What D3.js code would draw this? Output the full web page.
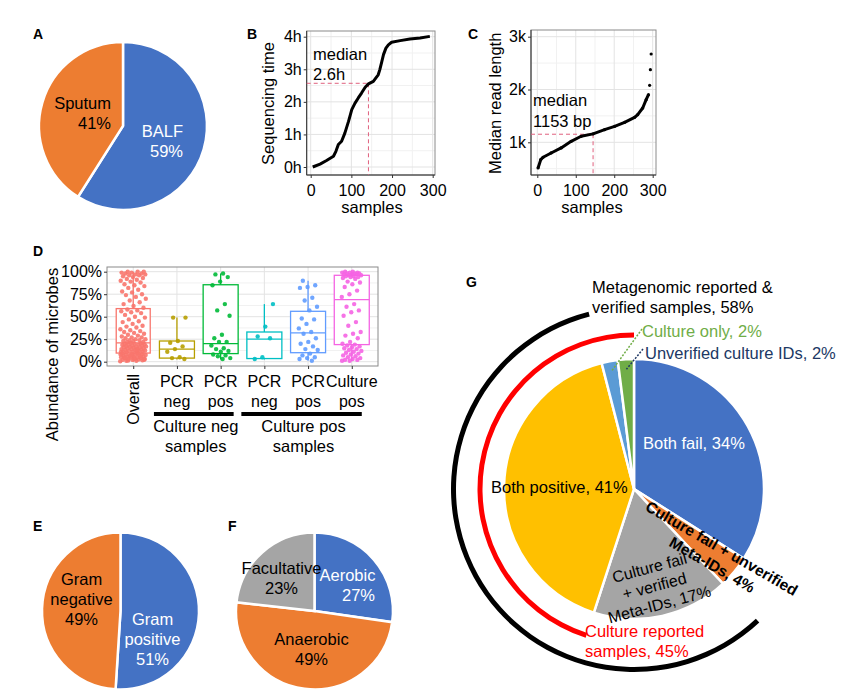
<!DOCTYPE html>
<html>
<head>
<meta charset="utf-8">
<title>Multi-panel figure</title>
<script src="https://cdn.jsdelivr.net/npm/d3@7"></script>
<style>
  body { margin: 0; background: #fff; }
  text { font-family: "Liberation Sans", Arial, sans-serif; }
</style>
</head>
<body>
<svg id="svg" width="844" height="696" xmlns="http://www.w3.org/2000/svg"></svg>
<script>
// ---------- data ----------
// A: sample types
const catA = ["BALF", "Sputum"];
const valA = [59, 41];

// B: sequencing time per sample (sorted)
const sampB = [5, 23, 39, 56, 62, 68, 76, 84, 93, 101, 109, 117, 125, 134, 142, 154, 166, 170, 175, 179, 185, 191, 199, 220, 244, 269, 293];
const hoursB = [0.0, 0.09, 0.2, 0.33, 0.48, 0.69, 0.79, 1.04, 1.4, 1.76, 1.96, 2.12, 2.27, 2.45, 2.55, 2.63, 2.83, 2.99, 3.24, 3.45, 3.65, 3.75, 3.83, 3.88, 3.93, 3.96, 4.01];
const medianB = { sample: 142, value: 2.57 };
const ticksB = [0, 1, 2, 3, 4];

// C: median read length per sample (sorted)
const sampC = [2, 9, 15, 36, 62, 88, 114, 145, 175, 201, 227, 253, 261, 274, 283, 289, 292, 294, 296];
const lenC = [514, 672, 716, 798, 893, 1019, 1114, 1160, 1240, 1303, 1379, 1473, 1524, 1650, 1808, 1902, 2079, 2375, 2672];
const medianC = { sample: 145, value: 1153 };
const ticksC = [1000, 2000, 3000];

// D: abundance of microbes, box stats
const labelsD = [["Overall"], ["PCR", "neg"], ["PCR", "pos"], ["PCR", "neg"], ["PCR", "pos"], ["Culture", "pos"]];
const colorsD = ["#F8766D", "#B79F00", "#00BA38", "#00BFC4", "#619CFF", "#F564E3"];
const boxLo = [0, 2.5, 2.5, 2.5, 1, 0.5];
const boxQ1 = [9.6, 4, 9, 3.5, 10, 19];
const boxMed = [21, 14, 20, 25, 32, 69];
const boxQ3 = [59, 23, 85.5, 33, 56, 96];
const boxHi = [100, 49, 98, 64, 90, 100];
const ptsOverall = [0.5,1,1,1.5,2,2,2.5,3,3,3.5,4,4,4.5,5,5,5.5,6,6,6.5,7,7,7.5,8,8,8.5,9,9,9.5,1.2,2.2,3.3,4.4,5.6,6.8,7.9,
  10,10.5,11,11,11.5,12,12,12.5,13,13,13.5,14,14,14.5,15,15,15.5,16,16,16.5,17,17,17.5,18,18,18.5,19,19,19.5,20,20,20.5,21,10.8,12.8,
  22,22,23,23,24,24,25,25,26,27,27,28,29,30,31,32,33,34,35,36,38,39,40,42,44,45,47,49,50,52,54,55,56,57,58,
  60,62,64,66,68,70,72,74,75,77,78,80,82,84,85,86,88,89,90,91,92,93,94,95,96,96,97,97,98,98,99,99,100,100,100];
const ptsCnPcrNeg = [49, 49, 23, 21, 17, 14, 11, 5, 4, 3];
const ptsCnPcrPos = [98, 97, 94, 89, 85, 64, 57, 51, 30, 26, 22, 22, 18, 15, 14, 12, 11, 8, 7, 6, 4, 3];
const ptsCpPcrNeg = [64, 39, 28, 26, 5, 3];
const ptsCpPcrPos = [90, 85, 83, 82, 71, 68, 61, 57, 48, 47, 42, 37, 33, 31, 26, 22, 20, 17, 14, 13, 9, 7, 5, 4, 3, 1];
const ptsCulturePos = [100,100,99,99,99,98,98,98,97,97,97,96,96,95,95,94,94,93,92,89,88,86,83,79,75,72,64,61,57,55,51,44,40,33,31,29,26,22,
  20,19,18,17,16,15,14,13,12,11,10,9,8,7,6,5,4,3,2,2,1,1];
const ptsD = [ptsOverall, ptsCnPcrNeg, ptsCnPcrPos, ptsCpPcrNeg, ptsCpPcrPos, ptsCulturePos];
const groupsD = [{ label: ["Culture neg", "samples"], from: 1, to: 2 }, { label: ["Culture pos", "samples"], from: 3, to: 5 }];
const ticksD = [0, 25, 50, 75, 100];

// E: gram stain
const catE = ["Gram positive", "Gram negative"];
const valE = [51, 49];

// F: oxygen requirement
const catF = ["Aerobic", "Anaerobic", "Facultative"];
const valF = [27, 49, 23];

// G: culture vs metagenomics outcome
const catG = ["Both fail", "Culture fail + unverified Meta-IDs", "Culture fail + verified Meta-IDs", "Both positive", "Unverified culture IDs", "Culture only"];
const valG = [34, 4, 17, 41, 2, 2];
const colorsG = ["#4472C4", "#ED7D31", "#A5A5A5", "#FFC000", "#5B9BD5", "#70AD47"];
const redArcSlices = [3, 4, 5];   // culture reported samples, 45%
const blackArcSlices = [2, 3];    // metagenomic reported & verified, 58%

const BLUE = "#4472C4", ORANGE = "#ED7D31", GREY = "#A5A5A5";
const FONT = "Liberation Sans, Arial, sans-serif";

let svg = d3.select("svg");
svg.append("rect").attr("width", 844).attr("height", 696).attr("fill", "#fff");

// panel letters
function letter(x, y, t) {
  svg.append("text").attr("x", x).attr("y", y).attr("font-size", 14)
    .attr("font-weight", "bold").text(t);
}
letter(33, 39, "A"); letter(247, 39, "B"); letter(468, 39, "C");
letter(33, 256, "D"); letter(33, 531, "E"); letter(228, 531, "F"); letter(466, 287, "G");

// multi-line text helper
function lines(g, x, y, arr, opts) {
  let t = g.append("text").attr("x", x).attr("y", y)
    .attr("font-size", opts.size || 16.5)
    .attr("text-anchor", opts.anchor || "middle")
    .attr("fill", opts.fill || "#000");
  if (opts.weight) t.attr("font-weight", opts.weight);
  arr.forEach((s, i) => t.append("tspan").attr("x", x).attr("dy", i ? (opts.lh || 20) : 0).text(s));
  return t;
}

// pie helper
function drawPie(cx, cy, r, values, colors) {
  let arcs = d3.pie().sort(null)(values);
  let g = svg.append("g").attr("transform", `translate(${cx},${cy})`);
  g.selectAll("path").data(arcs).join("path")
    .attr("d", d3.arc().innerRadius(0).outerRadius(r))
    .attr("fill", (d, i) => colors[i])
    .attr("stroke", "#fff").attr("stroke-width", 2.5);
  return { g, arcs };
}

// ---------- A ----------
let pA = drawPie(123, 126, 84, valA, [BLUE, ORANGE]);
lines(pA.g, 60, 11, [catA[0], valA[0] + "%"], { anchor: "end", fill: "#fff" });
lines(pA.g, -12, -17, [catA[1], valA[1] + "%"], { anchor: "end" });

// ---------- shared line-panel helper (B, C) ----------
function linePanel(box, x, y, xMaj, xMin, yMaj, yMin, yFmt) {
  let g = svg.append("g");
  let grid = g.append("g");
  yMin.forEach(v => grid.append("line").attr("x1", box.l).attr("x2", box.r).attr("y1", y(v)).attr("y2", y(v)).attr("stroke", "#f1f1f1"));
  xMin.forEach(v => grid.append("line").attr("y1", box.t).attr("y2", box.b).attr("x1", x(v)).attr("x2", x(v)).attr("stroke", "#f1f1f1"));
  yMaj.forEach(v => grid.append("line").attr("x1", box.l).attr("x2", box.r).attr("y1", y(v)).attr("y2", y(v)).attr("stroke", "#e3e3e3"));
  xMaj.forEach(v => grid.append("line").attr("y1", box.t).attr("y2", box.b).attr("x1", x(v)).attr("x2", x(v)).attr("stroke", "#e3e3e3"));
  g.append("rect").attr("x", box.l).attr("y", box.t).attr("width", box.r - box.l).attr("height", box.b - box.t)
    .attr("fill", "none").attr("stroke", "#8a8a8a");
  let ax = g.append("g").attr("transform", `translate(${box.l},0)`)
    .call(d3.axisLeft(y).tickValues(yMaj).tickFormat(yFmt).tickSize(3).tickPadding(2));
  let bx = g.append("g").attr("transform", `translate(0,${box.b})`)
    .call(d3.axisBottom(x).tickValues(xMaj).tickSize(3).tickPadding(7));
  [ax, bx].forEach(a => {
    a.attr("font-size", 16).attr("font-family", FONT);
    a.selectAll("text").attr("fill", "#000");
    a.selectAll("line").attr("stroke", "#333");
    a.select(".domain").remove();
  });
  g.append("line").attr("x1", box.l).attr("x2", box.l).attr("y1", box.t).attr("y2", box.b).attr("stroke", "#333");
  g.append("line").attr("x1", box.l).attr("x2", box.r).attr("y1", box.b).attr("y2", box.b).attr("stroke", "#333");
  return g;
}

// ---------- B ----------
const boxB = { l: 306.7, r: 435, t: 31, b: 175 };
const xB = d3.scaleLinear().domain([0, 300]).range([310.7, 432.7]);
const yB = d3.scaleLinear().domain([0, 4]).range([167, 36.7]);
let gB = linePanel(boxB, xB, yB, [0, 100, 200, 300], [50, 150, 250], ticksB, [0.5, 1.5, 2.5, 3.5], d => d + "h");
gB.append("line").attr("x1", boxB.l).attr("x2", xB(medianB.sample)).attr("y1", yB(medianB.value)).attr("y2", yB(medianB.value))
  .attr("stroke", "#e0607e").attr("stroke-dasharray", "4,3");
gB.append("line").attr("x1", xB(medianB.sample)).attr("x2", xB(medianB.sample)).attr("y1", yB(medianB.value)).attr("y2", boxB.b)
  .attr("stroke", "#e0607e").attr("stroke-dasharray", "4,3");
let ptsB = sampB.map((s, i) => [s, hoursB[i]]);
gB.append("path").attr("d", d3.line().x(d => xB(d[0])).y(d => yB(d[1]))(ptsB))
  .attr("fill", "none").attr("stroke", "#000").attr("stroke-width", 3).attr("stroke-linejoin", "round");
lines(gB, 313, 60, ["median", medianB.value.toFixed(1) + "h"], { anchor: "start" });
gB.append("text").attr("x", 372).attr("y", 213).attr("text-anchor", "middle").attr("font-size", 16.5).text("samples");
gB.append("text").attr("transform", "translate(274,103.5) rotate(-90)").attr("text-anchor", "middle").attr("font-size", 16.5).text("Sequencing time");

// ---------- C ----------
const boxC = { l: 531, r: 656, t: 30, b: 175 };
const xC = d3.scaleLinear().domain([0, 300]).range([537.3, 652.7]);
const yC = d3.scaleLinear().domain([1000, 3000]).range([142.3, 36.7]);
let gC = linePanel(boxC, xC, yC, [0, 100, 200, 300], [50, 150, 250], ticksC, [500, 1500, 2500], d => d / 1000 + "k");
gC.append("line").attr("x1", boxC.l).attr("x2", xC(medianC.sample)).attr("y1", yC(medianC.value)).attr("y2", yC(medianC.value))
  .attr("stroke", "#e0607e").attr("stroke-dasharray", "4,3");
gC.append("line").attr("x1", xC(medianC.sample)).attr("x2", xC(medianC.sample)).attr("y1", yC(medianC.value)).attr("y2", boxC.b)
  .attr("stroke", "#e0607e").attr("stroke-dasharray", "4,3");
let ptsC = sampC.map((s, i) => [s, lenC[i]]);
gC.append("path").attr("d", d3.line().x(d => xC(d[0])).y(d => yC(d[1]))(ptsC.filter(d => d[1] < 2000)))
  .attr("fill", "none").attr("stroke", "#000").attr("stroke-width", 3).attr("stroke-linejoin", "round");
gC.selectAll(".dotc").data(ptsC).join("circle").attr("class", "dotc")
  .attr("cx", d => xC(d[0])).attr("cy", d => yC(d[1])).attr("r", 1.6).attr("fill", "#000");
lines(gC, 533, 106, ["median", medianC.value + " bp"], { anchor: "start", lh: 21 });
gC.append("text").attr("x", 592).attr("y", 213).attr("text-anchor", "middle").attr("font-size", 16.5).text("samples");
gC.append("text").attr("transform", "translate(501,103.3) rotate(-90)").attr("text-anchor", "middle").attr("font-size", 16.5).text("Median read length");

// ---------- D ----------
const boxD = { l: 107, r: 378, t: 267, b: 366 };
const xD = d3.scalePoint().domain(d3.range(labelsD.length)).range([boxD.l, boxD.r]).padding(0.6);
const yD = d3.scaleLinear().domain([0, 100]).range([361.7, 271.7]);
let gD = svg.append("g");
[12.5, 37.5, 62.5, 87.5].forEach(v => gD.append("line").attr("x1", boxD.l).attr("x2", boxD.r).attr("y1", yD(v)).attr("y2", yD(v)).attr("stroke", "#f1f1f1"));
ticksD.forEach(v => gD.append("line").attr("x1", boxD.l).attr("x2", boxD.r).attr("y1", yD(v)).attr("y2", yD(v)).attr("stroke", "#e3e3e3"));
xD.domain().forEach(i => gD.append("line").attr("x1", xD(i)).attr("x2", xD(i)).attr("y1", boxD.t).attr("y2", boxD.b).attr("stroke", "#e3e3e3"));
gD.append("rect").attr("x", boxD.l).attr("y", boxD.t).attr("width", boxD.r - boxD.l).attr("height", boxD.b - boxD.t)
  .attr("fill", "none").attr("stroke", "#8a8a8a");
let axD = gD.append("g").attr("transform", `translate(${boxD.l},0)`)
  .call(d3.axisLeft(yD).tickValues(ticksD).tickFormat(d => d + "%").tickSize(3).tickPadding(2));
axD.attr("font-size", 16).attr("font-family", FONT);
axD.selectAll("text").attr("fill", "#000");
axD.selectAll("line").attr("stroke", "#333");
axD.select(".domain").remove();
let bxD = gD.append("g").attr("transform", `translate(0,${boxD.b})`)
  .call(d3.axisBottom(xD).tickSize(3).tickFormat(""));
bxD.selectAll("line").attr("stroke", "#333");
bxD.select(".domain").remove();

const bw = 35;
xD.domain().forEach(i => {
  let cx = xD(i), c = colorsD[i];
  let bwi = i === 0 ? 34 : bw;
  gD.append("line").attr("x1", cx).attr("x2", cx).attr("y1", yD(boxHi[i])).attr("y2", yD(boxQ3[i])).attr("stroke", c).attr("stroke-width", 1.3);
  gD.append("line").attr("x1", cx).attr("x2", cx).attr("y1", yD(boxQ1[i])).attr("y2", yD(boxLo[i])).attr("stroke", c).attr("stroke-width", 1.3);
  gD.append("rect").attr("x", cx - bwi / 2).attr("y", yD(boxQ3[i])).attr("width", bwi).attr("height", yD(boxQ1[i]) - yD(boxQ3[i]))
    .attr("fill", "#fff").attr("stroke", c).attr("stroke-width", 1.3);
  gD.append("line").attr("x1", cx - bwi / 2).attr("x2", cx + bwi / 2).attr("y1", yD(boxMed[i])).attr("y2", yD(boxMed[i])).attr("stroke", c).attr("stroke-width", 1.3);
  // jittered points (deterministic spread)
  let jw = i === 0 ? 13 : 10;
  gD.selectAll(".p" + i).data(ptsD[i]).join("circle").attr("class", "p" + i)
    .attr("cx", (d, k) => cx + (((k * 0.618034 + i * 0.31) % 1) - 0.5) * 2 * jw)
    .attr("cy", d => yD(d)).attr("r", 2.2).attr("fill", c).attr("opacity", 0.9);
});
// x labels
labelsD.forEach((lab, i) => {
  if (lab.length === 1) {
    gD.append("text").attr("transform", `translate(${xD(i) + 6},374) rotate(-90)`)
      .attr("text-anchor", "end").attr("font-size", 16).text(lab[0]);
  } else {
    lines(gD, xD(i), 387, lab, { size: 16, lh: 20 });
  }
});
groupsD.forEach(gr => {
  let x1 = xD(gr.from) - 23, x2 = xD(gr.to) + (gr.to === 5 ? 10 : 13);
  gD.append("rect").attr("x", x1).attr("y", 412).attr("width", x2 - x1).attr("height", 4).attr("fill", "#000");
  lines(gD, (x1 + x2) / 2 + 2, 432, gr.label, { size: 16.5, lh: 20 });
});
gD.append("text").attr("transform", "translate(58,354.5) rotate(-90)").attr("text-anchor", "middle").attr("font-size", 16.5).text("Abundance of microbes");

// ---------- E ----------
let pE = drawPie(120.5, 611, 78.5, valE, [BLUE, ORANGE]);
lines(pE.g, 32, 14, ["Gram", "positive", valE[0] + "%"], { fill: "#fff" });
lines(pE.g, -39, -26, ["Gram", "negative", valE[1] + "%"], {});

// ---------- F ----------
let pF = drawPie(314.5, 611, 78.5, valF, [BLUE, ORANGE, GREY]);
lines(pF.g, 33, -30, [catF[0]], { fill: "#fff" });
lines(pF.g, 44, -10, [valF[0] + "%"], { fill: "#fff" });
lines(pF.g, -3, 34, [catF[1], valF[1] + "%"], {});
lines(pF.g, -33, -37, [catF[2], valF[2] + "%"], {});

// ---------- G ----------
const GX = 634, GY = 489, GR = 130;
let pG = drawPie(GX, GY, GR, valG, colorsG);
let arcsG = pG.arcs, gG = pG.g;
let ring = d3.arc();
gG.append("path").attr("d", ring({
  innerRadius: 151.5, outerRadius: 156.5,
  startAngle: arcsG[redArcSlices[0]].startAngle, endAngle: arcsG[redArcSlices[redArcSlices.length - 1]].endAngle
})).attr("fill", "#ff0000");
gG.append("path").attr("d", ring({
  innerRadius: 178, outerRadius: 183,
  startAngle: arcsG[blackArcSlices[0]].startAngle, endAngle: arcsG[blackArcSlices[blackArcSlices.length - 1]].endAngle
})).attr("fill", "#000");

// leader lines for the two small slices
let inner = d3.arc().innerRadius(110).outerRadius(130);
let cLB = inner.centroid(arcsG[4]), cGr = inner.centroid(arcsG[5]);
gG.append("line").attr("x1", 642 - GX).attr("y1", 329 - GY).attr("x2", cLB[0]).attr("y2", cLB[1])
  .attr("stroke", "#70AD47").attr("stroke-width", 1.5).attr("stroke-dasharray", "2,1.5");
gG.append("line").attr("x1", 643 - GX).attr("y1", 349 - GY).attr("x2", cGr[0]).attr("y2", cGr[1])
  .attr("stroke", "#203864").attr("stroke-width", 1.5).attr("stroke-dasharray", "2,1.5");

lines(svg, 592, 293, ["Metagenomic reported &", "verified samples, " + d3.sum(blackArcSlices, i => valG[i]) + "%"], { anchor: "start" });
lines(svg, 642, 337, ["Culture only, " + valG[5] + "%"], { anchor: "start", fill: "#70AD47" });
lines(svg, 645, 359, ["Unverified culture IDs, " + valG[4] + "%"], { anchor: "start", fill: "#203864" });
lines(svg, 643, 449, [catG[0] + ", " + valG[0] + "%"], { anchor: "start", fill: "#fff" });
lines(svg, 491, 493, [catG[3] + ", " + valG[3] + "%"], { anchor: "start" });
lines(svg, 585, 637, ["Culture reported", "samples, " + d3.sum(redArcSlices, i => valG[i]) + "%"], { anchor: "start", fill: "#ff0000" });

let t1 = svg.append("g").attr("transform", "translate(719,553) rotate(30)");
lines(t1, 0, 0, ["Culture fail + unverified", "Meta-IDs, " + valG[1] + "%"], { size: 15.5, weight: "bold", lh: 19 });
let t2 = svg.append("g").attr("transform", "translate(651,573) rotate(-15)");
lines(t2, 0, 0, ["Culture fail", "+ verified", "Meta-IDs, " + valG[2] + "%"], { size: 16, lh: 19 });
</script>
</body>
</html>
